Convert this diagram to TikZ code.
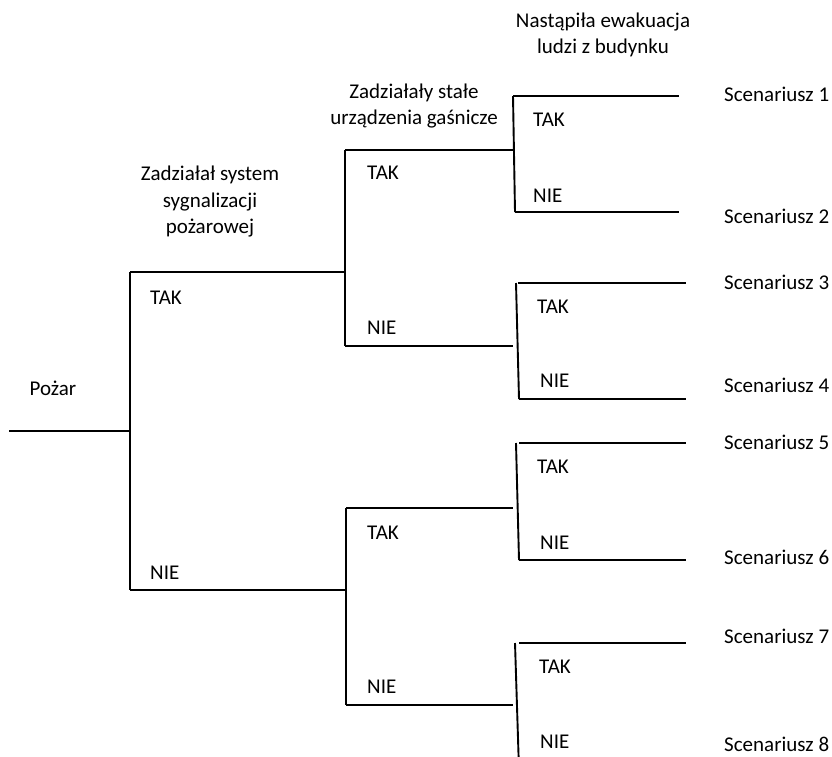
\documentclass[tikz,border=0pt]{standalone}
\usepackage{fontspec}
\setmainfont{Carlito}
\begin{document}
\begin{tikzpicture}[x=1pt,y=-1pt,
  branch/.style={line width=1.9pt},
  lbl/.style={inner sep=0pt,font=\fontsize{21}{26.5}\selectfont},
  yn/.style={lbl,anchor=west},
  scen/.style={lbl,anchor=west},
  head/.style={lbl,align=center,font=\fontsize{21}{26.5}\selectfont}]
\clip (0,0) rectangle (832,756);
\fill[white] (0,0) rectangle (832,756);
% junction coordinates
\coordinate (r0) at (9,431);
\coordinate (j0) at (130,431);
\coordinate (j0t) at (130,272);
\coordinate (j0b) at (130,590);
\coordinate (a1) at (345,272);
\coordinate (a1t) at (345,150);
\coordinate (a1b) at (345,346);
\coordinate (b1) at (346,590);
\coordinate (b1t) at (346,508);
\coordinate (b1b) at (346,705);
\coordinate (e1) at (513,150);
\coordinate (e2) at (513,346);
\coordinate (e3) at (513,508);
\coordinate (e4) at (513,705);
% group 1
\coordinate (g1t) at (513,96);
\coordinate (g1b) at (515,212);
\coordinate (s1) at (679,96);
\coordinate (s2) at (679,212);
% group 2
\coordinate (g2t) at (516,283);
\coordinate (g2b) at (519,399);
\coordinate (g2h) at (518,283);
\coordinate (s3) at (686,283);
\coordinate (s4) at (686,399);
% group 3
\coordinate (g3t) at (516,443);
\coordinate (g3b) at (519,560);
\coordinate (g3h) at (519,443);
\coordinate (s5) at (686,443);
\coordinate (s6) at (686,560);
% group 4
\coordinate (g4t) at (515,643);
\coordinate (g4b) at (519,770);
\coordinate (g4h) at (519,643);
\coordinate (s7) at (686,643);
% lines
\draw[branch] (r0) -- (j0);
\draw[branch] (j0t) -- (j0b);
\draw[branch] (j0t) -- (a1);
\draw[branch] (j0b) -- (b1);
\draw[branch] (a1t) -- (a1b);
\draw[branch] (a1t) -- (e1);
\draw[branch] (a1b) -- (e2);
\draw[branch] (b1t) -- (b1b);
\draw[branch] (b1t) -- (e3);
\draw[branch] (b1b) -- (e4);
\draw[branch] (g1t) -- (g1b);
\draw[branch] (g1t) -- (s1);
\draw[branch] (g1b) -- (s2);
\draw[branch] (g2t) -- (g2b);
\draw[branch] (g2h) -- (s3);
\draw[branch] (g2b) -- (s4);
\draw[branch] (g3t) -- (g3b);
\draw[branch] (g3h) -- (s5);
\draw[branch] (g3b) -- (s6);
\draw[branch] (g4t) -- (g4b);
\draw[branch] (g4h) -- (s7);
% headers
\node[head] (h0) at (210,202) {Zadziałał system\\sygnalizacji\\pożarowej};
\node[head] (h1) at (414,106) {Zadziałały stałe\\urządzenia gaśnicze};
\node[head] (h2) at (603,35) {Nastąpiła ewakuacja\\ludzi z budynku};
\node[lbl] (poz) at (53,388) {Pożar};
% yes/no labels
\node[yn] (t0) at (150,298) {TAK};
\node[yn] (n0) at (150,573) {NIE};
\node[yn] (t1) at (367,173) {TAK};
\node[yn] (n1) at (367,328) {NIE};
\node[yn] (t2) at (367,533) {TAK};
\node[yn] (n2) at (367,687) {NIE};
\node[yn] (t3) at (533,120) {TAK};
\node[yn] (n3) at (533,196) {NIE};
\node[yn] (t4) at (537,307) {TAK};
\node[yn] (n4) at (540,381) {NIE};
\node[yn] (t5) at (537,467) {TAK};
\node[yn] (n5) at (540,543) {NIE};
\node[yn] (t6) at (539,667) {TAK};
\node[yn] (n6) at (540,742) {NIE};
% scenario labels
\node[scen] (sc1) at (724,94) {Scenariusz 1};
\node[scen] (sc2) at (724,216) {Scenariusz 2};
\node[scen] (sc3) at (724,282) {Scenariusz 3};
\node[scen] (sc4) at (724,385) {Scenariusz 4};
\node[scen] (sc5) at (724,442) {Scenariusz 5};
\node[scen] (sc6) at (724,557) {Scenariusz 6};
\node[scen] (sc7) at (724,636) {Scenariusz 7};
\node[scen] (sc8) at (724,744) {Scenariusz 8};
\end{tikzpicture}
\end{document}
